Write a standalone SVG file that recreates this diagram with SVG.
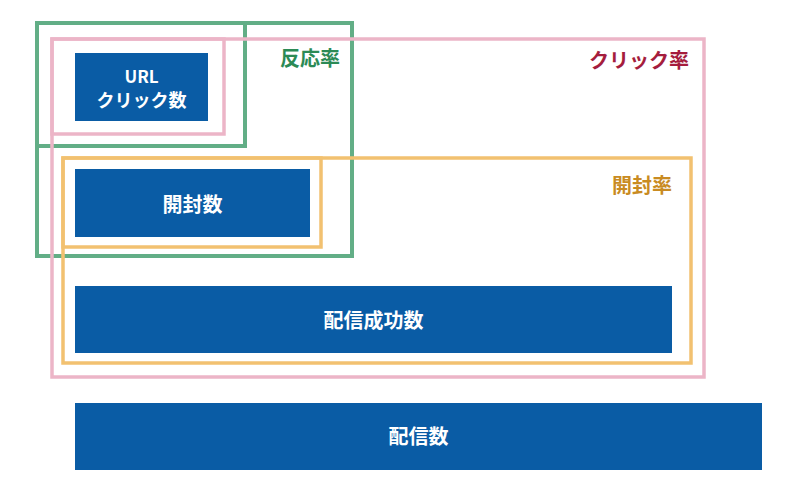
<svg xmlns="http://www.w3.org/2000/svg" width="800" height="490" viewBox="0 0 800 490">
<style>
.box{fill:#0a5ca5}
.bt{fill:#ffffff;font-family:"Noto Sans CJK JP","Noto Sans",sans-serif;font-weight:bold;text-anchor:middle}
.g{fill:none;stroke:#62ae86;stroke-width:4}
.p{fill:none;stroke:#ecb5c7;stroke-width:3.5}
.o{fill:none;stroke:#f2c170;stroke-width:3.5}
.lbl{font-family:"Noto Sans CJK JP","Noto Sans",sans-serif;font-weight:bold;font-size:20px}
</style>
<rect width="800" height="490" fill="#ffffff"/>
<g id="frames">
<g id="hannouritsu">
<rect class="g" x="37" y="23" width="208" height="123"/>
<rect class="g" x="37" y="23" width="315" height="233"/>
<text class="lbl" x="280" y="65.5" fill="#2b8a55">反応率</text>
</g>
<g id="clickritsu">
<rect class="p" x="52" y="39" width="172" height="95"/>
<rect class="p" x="52" y="39" width="652" height="338"/>
<text class="lbl" x="689" y="68" fill="#a51d3d" text-anchor="end">クリック率</text>
</g>
<g id="kaifuuritsu">
<rect class="o" x="63" y="158" width="258" height="89"/>
<rect class="o" x="63" y="158" width="628" height="205"/>
<text class="lbl" x="672" y="193" fill="#c98b22" text-anchor="end">開封率</text>
</g>
</g>
<g id="nodes">
<g id="url-click">
<rect class="box" x="75" y="53" width="133" height="68"/>
<text class="bt" x="141.5" y="83" font-size="17">URL</text>
<text class="bt" x="141.5" y="107" font-size="18">クリック数</text>
</g>
<g id="kaifuu">
<rect class="box" x="75" y="169" width="235" height="68"/>
<text class="bt" x="192.5" y="212" font-size="20">開封数</text>
</g>
<g id="haishin-seikou">
<rect class="box" x="75" y="286" width="597" height="67"/>
<text class="bt" x="373.5" y="328" font-size="20">配信成功数</text>
</g>
<g id="haishin">
<rect class="box" x="75" y="403" width="687" height="67"/>
<text class="bt" x="418.5" y="444" font-size="20">配信数</text>
</g>
</g>
<g id="connectors"/>
</svg>
